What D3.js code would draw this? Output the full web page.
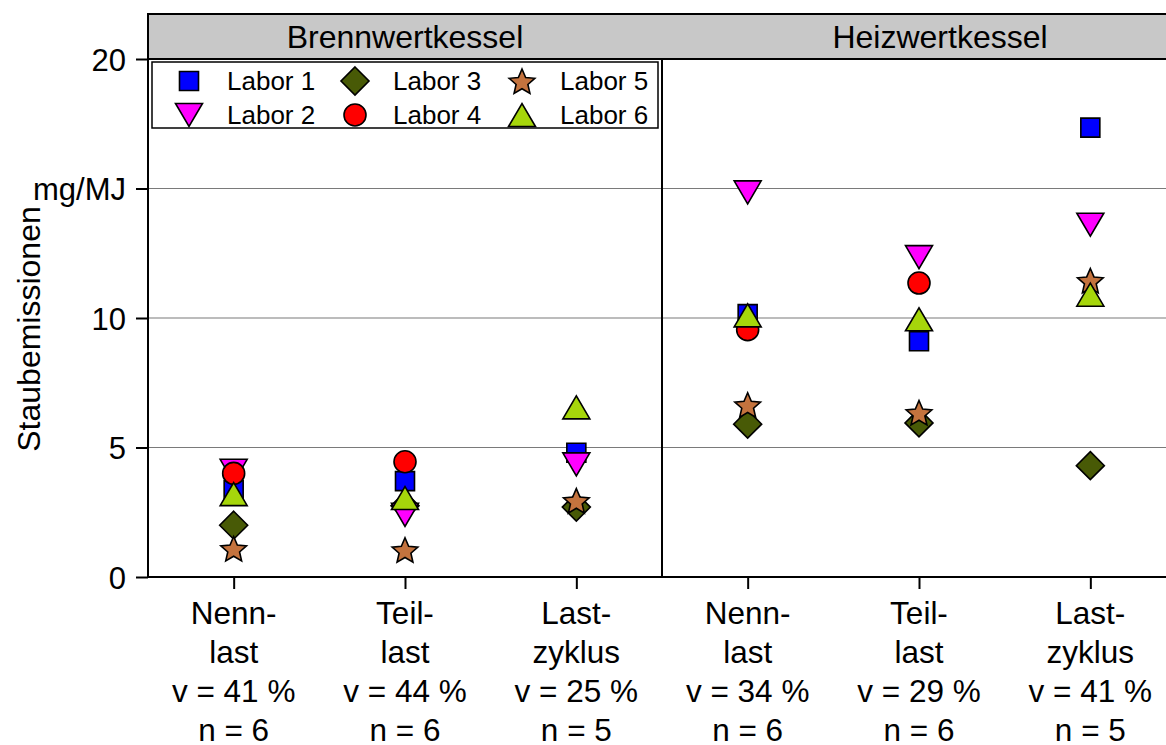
<!DOCTYPE html>
<html>
<head>
<meta charset="utf-8">
<script src="https://cdn.jsdelivr.net/npm/d3@7"></script>
<style>
  body { margin: 0; background: #fff; }
  text { font-family: "Liberation Sans", Arial, sans-serif; fill: #000; }
</style>
</head>
<body>
<div id="chart"></div>
<script>
// panels and categories
var panels = ["Brennwertkessel", "Heizwertkessel"];
var categories = ["Nennlast", "Teillast", "Lastzyklus"];
var catLines = [["Nenn-", "last"], ["Teil-", "last"], ["Last-", "zyklus"]];
var vValues = [41, 44, 25, 34, 29, 41];
var nValues = [6, 6, 5, 6, 6, 5];

// values in order: Brennwert Nenn, Teil, Last | Heizwert Nenn, Teil, Last  (mg/MJ)
var labor1 = [3.35, 3.7, 4.8, 10.15, 9.1, 17.35];
var labor2 = [4.1, 2.4, 4.35, 14.85, 12.35, 13.6];
var labor3 = [2.0, 2.75, 2.7, 5.9, 5.95, 4.3];
var labor4 = [4.0, 4.45, null, 9.55, 11.35, null];
var labor5 = [1.1, 1.05, 2.95, 6.65, 6.35, 11.45];
var labor6 = [3.2, 3.05, 6.55, 10.1, 9.95, 10.9];

var labNames = ["Labor 1", "Labor 2", "Labor 3", "Labor 4", "Labor 5", "Labor 6"];
var yTicks = [0, 5, 10, 15, 20];

(function(){
    var width = 1166, height = 745;
    var svg = d3.select("#chart").append("svg")
        .attr("width", width).attr("height", height);

    var left = 148, panelW = 514, top = 14, headerBottom = 59, bottom = 577;
    var labSeries = [labor1, labor2, labor3, labor4, labor5, labor6];
    var colors = ["#0000ff", "#ff00ff", "#485a06", "#ff0000", "#c4733e", "#a6d60b"];
    var shapes = ["square", "down", "diamond", "circle", "star", "up"];
    var drawOrder = [2, 0, 1, 3, 4, 5];

    var y = d3.scaleLinear().domain([0, 20]).range([bottom, headerBottom]);

    // one point scale per panel
    var xs = panels.map(function(p, i){
        return d3.scalePoint().domain(categories)
            .range([left + i * panelW, left + (i + 1) * panelW]).padding(0.5);
    });

    // symbol paths centred on bounding box
    function symbolPath(shape){
        switch(shape){
            case "square": return "M-9.5,-9.5H9.5V9.5H-9.5Z";
            case "down": return "M-13.5,-11.5H13.5L0,11.5Z";
            case "up": return "M-13.5,11.5H13.5L0,-11.5Z";
            case "diamond": return "M0,-14L14,0L0,14L-14,0Z";
            case "circle": return "M11,0A11,11 0 1,1 -11,0A11,11 0 1,1 11,0Z";
            case "star":
                var pts = [], R = 13.5, r = 6.2;
                for (var k = 0; k < 10; k++){
                    var a = -Math.PI / 2 + k * Math.PI / 5, rr = k % 2 ? r : R;
                    pts.push([rr * Math.cos(a), rr * Math.sin(a) + 1.5]);
                }
                return "M" + pts.join("L") + "Z";
        }
    }

    // header strip
    svg.append("rect")
        .attr("x", left).attr("y", top)
        .attr("width", width + 20 - left).attr("height", headerBottom - top)
        .attr("fill", "#c8c8c8").attr("stroke", "#000").attr("stroke-width", 2);
    var headerCx = [left + panelW / 2, 940];
    svg.selectAll(".panel-title").data(panels).enter().append("text")
        .attr("class", "panel-title")
        .attr("x", function(d, i){ return headerCx[i]; })
        .attr("y", 48)
        .attr("text-anchor", "middle")
        .style("font-size", "32px")
        .text(function(d){ return d; });

    // grid lines
    svg.selectAll(".grid").data([5, 10, 15]).enter().append("line")
        .attr("class", "grid")
        .attr("x1", left).attr("x2", width)
        .attr("y1", function(d){ return y(d); }).attr("y2", function(d){ return y(d); })
        .attr("stroke", "#7a7a7a").attr("stroke-width", 1.2);

    // panel divider
    svg.append("line")
        .attr("x1", left + panelW).attr("x2", left + panelW)
        .attr("y1", headerBottom).attr("y2", bottom)
        .attr("stroke", "#000").attr("stroke-width", 2);

    // y axis
    var yAxis = svg.append("g")
        .attr("transform", "translate(" + left + ",0)")
        .call(d3.axisLeft(y).tickValues(yTicks).tickSize(12).tickPadding(10)
            .tickFormat(function(d){ return d === 15 ? "mg/MJ" : d; }));
    yAxis.select(".domain").attr("stroke-width", 2).attr("d", "M0," + bottom + "V" + headerBottom);
    yAxis.selectAll(".tick line").attr("stroke-width", 2);
    yAxis.selectAll(".tick text").style("font-size", "31px")
        .style("font-family", "'Liberation Sans', Arial, sans-serif").attr("dy", "0.36em");

    svg.append("text")
        .attr("transform", "translate(40,329) rotate(-90)")
        .attr("text-anchor", "middle")
        .style("font-size", "32px")
        .text("Staubemissionen");

    // x axes (one per panel)
    xs.forEach(function(x, i){
        var g = svg.append("g")
            .attr("transform", "translate(0," + bottom + ")")
            .call(d3.axisBottom(x).tickSize(12).tickFormat(""));
        g.select(".domain").attr("stroke-width", 2)
            .attr("d", "M" + (left + i * panelW) + ",0H" + (left + (i + 1) * panelW));
        g.selectAll(".tick line").attr("stroke-width", 2);

        categories.forEach(function(c, j){
            var idx = i * 3 + j;
            var lines = catLines[j].concat(["v = " + vValues[idx] + " %", "n = " + nValues[idx]]);
            var t = svg.append("text")
                .attr("text-anchor", "middle")
                .style("font-size", "31.5px");
            lines.forEach(function(s, k){
                t.append("tspan").attr("x", x(c)).attr("y", 624 + k * 39).text(s);
            });
        });
    });

    // points
    drawOrder.forEach(function(li){
        var pts = [];
        labSeries[li].forEach(function(v, idx){
            if (v === null) return;
            var p = Math.floor(idx / 3);
            pts.push({x: xs[p](categories[idx % 3]), y: y(v)});
        });
        svg.selectAll(".lab" + li).data(pts).enter().append("path")
            .attr("class", "lab" + li)
            .attr("transform", function(d){ return "translate(" + d.x + "," + d.y + ")"; })
            .attr("d", symbolPath(shapes[li]))
            .attr("fill", colors[li])
            .attr("stroke", "#000").attr("stroke-width", 1.6)
            .attr("stroke-linejoin", "miter");
    });

    // legend
    var lg = svg.append("g");
    lg.append("rect")
        .attr("x", 152).attr("y", 62).attr("width", 506).attr("height", 66)
        .attr("fill", "#fff").attr("stroke", "#000").attr("stroke-width", 1.5);
    var colX = [189, 355, 522], rowY = [81, 115];
    labNames.forEach(function(name, li){
        var cx = colX[Math.floor(li / 2)], cy = rowY[li % 2];
        lg.append("path")
            .attr("transform", "translate(" + cx + "," + cy + ")")
            .attr("d", symbolPath(shapes[li]))
            .attr("fill", colors[li])
            .attr("stroke", "#000").attr("stroke-width", 1.6);
        lg.append("text")
            .attr("x", cx + 38).attr("y", cy + 9)
            .style("font-size", "26px")
            .text(name);
    });
})();
</script>
</body>
</html>
